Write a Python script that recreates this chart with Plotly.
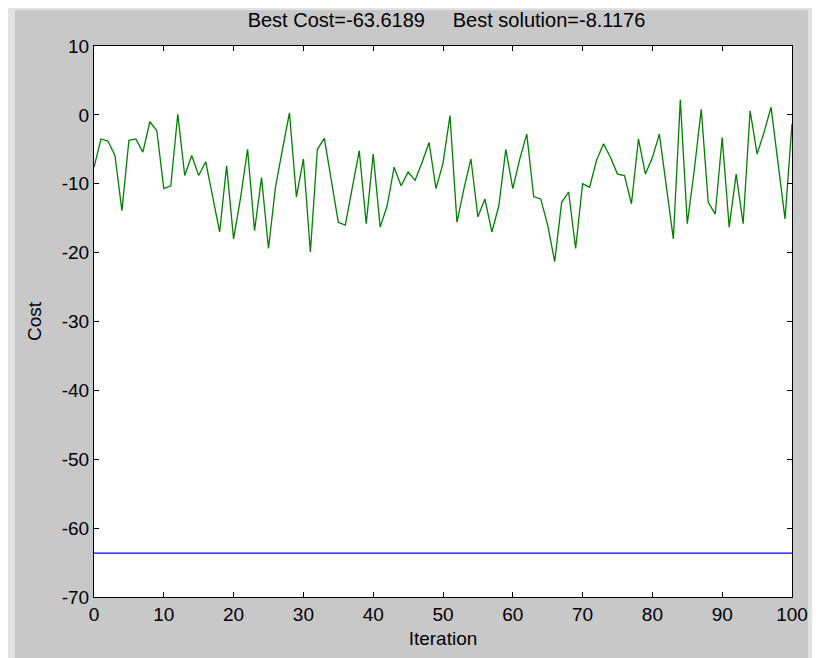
import plotly.graph_objects as go

iterations = list(range(0, 101))
cost = [
    -7.6, -3.5, -3.8, -5.9, -13.9, -3.7, -3.5, -5.4, -1.0, -2.3,
    -10.7, -10.3, 0.1, -8.8, -5.9, -8.8, -6.8, -12.0, -17.0, -7.4,
    -18.0, -12.0, -5.0, -16.8, -9.1, -19.4, -10.5, -5.0, 0.3, -11.9,
    -6.4, -19.9, -5.0, -3.4, -9.8, -15.6, -16.0, -10.3, -5.2, -15.8,
    -5.7, -16.3, -13.2, -7.6, -10.3, -8.3, -9.5, -6.9, -4.0, -10.7,
    -7.0, -0.1, -15.6, -10.7, -6.4, -14.8, -12.2, -17.0, -13.2, -5.0,
    -10.7, -6.4, -2.8, -11.9, -12.2, -16.0, -21.3, -12.7, -11.2, -19.4,
    -10.0, -10.5, -6.6, -4.2, -6.2, -8.6, -8.8, -12.9, -3.5, -8.6,
    -6.2, -2.8, -10.7, -18.0, 2.2, -15.8, -8.0, 0.8, -12.7, -14.4,
    -3.3, -16.3, -8.6, -15.8, 0.6, -5.7, -2.5, 1.1, -7.0, -15.1,
    -1.3,
]
best_cost = -63.6189
best_solution = -8.1176
best_line = [best_cost] * len(iterations)

x_ticks = [0, 10, 20, 30, 40, 50, 60, 70, 80, 90, 100]
y_ticks = [10, 0, -10, -20, -30, -40, -50, -60, -70]
y_tick_labels = [str(v) for v in y_ticks]

fig = go.Figure()
fig.add_trace(go.Scatter(x=iterations, y=cost, mode="lines",
                         line=dict(color="#008000", width=1.3), showlegend=False))
fig.add_trace(go.Scatter(x=iterations, y=best_line, mode="lines",
                         line=dict(color="#0000ff", width=1.3), showlegend=False))

FAM = "Liberation Sans, Arial, sans-serif"
font = dict(family=FAM, size=19, color="#000000")
axis_common = dict(showgrid=False, zeroline=False, showline=True, linecolor="#000000",
                   linewidth=1, mirror="ticks", ticks="inside", ticklen=5,
                   tickcolor="#000000", tickfont=font)

light = "#e2e2e2"
fig.update_layout(
    width=812, height=650,
    margin=dict(l=86, r=28, t=38, b=61),
    paper_bgcolor="#c8c8c8",
    plot_bgcolor="#ffffff",
    font=font,
    title=dict(text=f"Best Cost={best_cost}     Best solution={best_solution}",
               x=0.505, xref="paper", xanchor="center",
               y=0.981, yref="container", yanchor="middle",
               font=dict(family=FAM, size=20, color="#000000")),
    xaxis=dict(range=[0, 100], tickvals=x_ticks,
               title=dict(text="Iteration", font=font, standoff=7),
               **axis_common),
    yaxis=dict(range=[-70, 10], tickvals=y_ticks, ticktext=y_tick_labels,
               title=dict(text="Cost", font=font, standoff=15),
               **axis_common),
    shapes=[
        dict(type="rect", xref="paper", yref="paper", x0=-0.124, x1=-0.1132,
             y0=-0.12, y1=1.07, fillcolor=light, line=dict(width=0), layer="below"),
        dict(type="rect", xref="paper", yref="paper", x0=1.0229, x1=1.041,
             y0=-0.12, y1=1.07, fillcolor=light, line=dict(width=0), layer="below"),
        dict(type="rect", xref="paper", yref="paper", x0=-0.124, x1=1.041,
             y0=1.0653, y1=1.07, fillcolor=light, line=dict(width=0), layer="below"),
    ],
)

fig.write_html("out.html")
